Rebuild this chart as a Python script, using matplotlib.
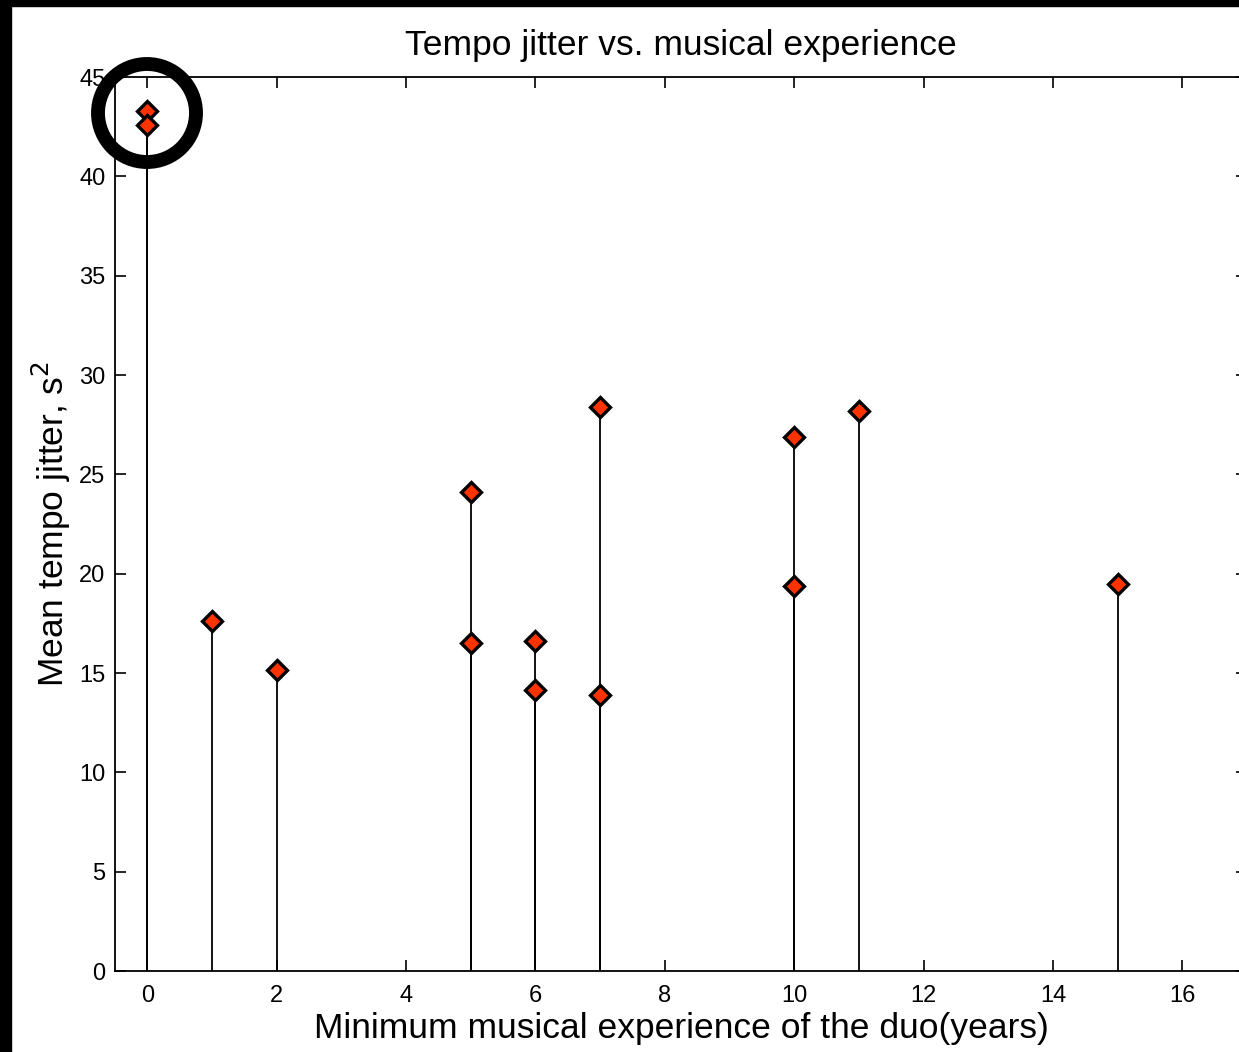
import matplotlib.pyplot as plt
from matplotlib.patches import Ellipse, Rectangle

plt.rcParams['font.family'] = ['Liberation Sans', 'DejaVu Sans']

# minimum experience of each duo (years) and its mean tempo jitter
experience = [0, 0, 1, 2, 5, 5, 6, 6, 7, 7, 10, 10, 11, 15]
jitter = [43.3, 42.6, 17.6, 15.15, 24.1, 16.5, 16.6, 14.15,
          28.4, 13.9, 26.9, 19.4, 28.2, 19.5]

x_ticks = [0, 2, 4, 6, 8, 10, 12, 14, 16]
y_ticks = [0, 5, 10, 15, 20, 25, 30, 35, 40, 45]

fig = plt.figure(figsize=(12.39, 10.52), dpi=100)
W, H = 1239, 1052
ax = fig.add_axes([115 / W, 81 / H, 1132 / W, 894 / H])

markerline, stemlines, baseline = ax.stem(experience, jitter, basefmt=' ')
plt.setp(stemlines, color='black', linewidth=1.3)
plt.setp(markerline, marker='D', markersize=10, markerfacecolor='#ff3300',
         markeredgecolor='black', markeredgewidth=2.4, linestyle='none')

ax.set_xlim(-0.5, 17)
ax.set_ylim(0, 45)
ax.set_xticks(x_ticks)
ax.set_yticks(y_ticks)
ax.tick_params(direction='in', length=8, width=1.2, top=True, right=True,
               labelsize=17, pad=10)
ax.tick_params(axis='y', pad=7)
for s in ax.spines.values():
    s.set_linewidth(1.3)

ax.set_title('Tempo jitter vs. musical experience', fontsize=25.5, pad=16)
ax.set_xlabel('Minimum musical experience of the duo(years)', fontsize=25.5,
              labelpad=4)
ax.set_ylabel('Mean tempo jitter, s$^2$', fontsize=25.5, labelpad=4)

# black frame strips along top and left edges
fig.patches.append(Rectangle((0, 1 - 6 / H), 1, 6 / H, transform=fig.transFigure,
                             color='black', zorder=10))
fig.patches.append(Rectangle((0, 0), 11 / W, 1, transform=fig.transFigure,
                             color='black', zorder=10))

# ring highlighting the two highest points
fig.patches.append(Ellipse((147 / W, 1 - 113 / H), 98 / W, 98 / H,
                           transform=fig.transFigure, fill=False,
                           edgecolor='black', linewidth=10, zorder=10))

fig.savefig('out.png', dpi=100)
